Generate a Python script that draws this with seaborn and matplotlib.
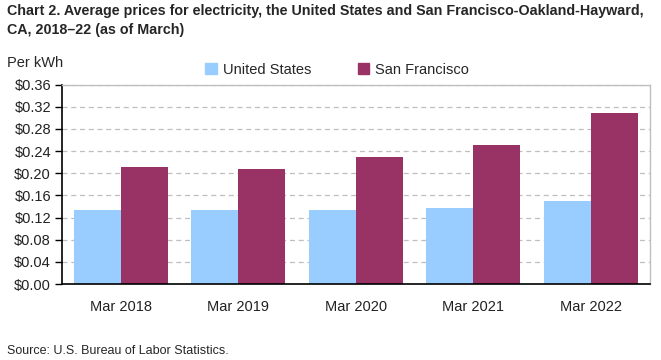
import matplotlib
matplotlib.use("Agg")
import matplotlib.pyplot as plt
import matplotlib.ticker as mticker
import pandas as pd
import seaborn as sns

# значения
periods = ["Mar 2018", "Mar 2019", "Mar 2020", "Mar 2021", "Mar 2022"]
us_prices = [0.133, 0.133, 0.133, 0.137, 0.150]
sf_prices = [0.211, 0.208, 0.230, 0.251, 0.309]
series_names = ["United States", "San Francisco"]
series_colors = ["#99CCFF", "#993366"]

df = pd.DataFrame({
    "period": periods * 2,
    "price": us_prices + sf_prices,
    "series": [series_names[0]] * len(periods) + [series_names[1]] * len(periods),
})

sns.set_style("white")
plt.rcParams["font.family"] = ["Liberation Sans", "DejaVu Sans"]

fig = plt.figure(figsize=(6.61, 3.6), dpi=100)
ax = fig.add_axes([0.094, 0.211, 0.889, 0.554])

sns.barplot(data=df, x="period", y="price", hue="series", palette=series_colors,
            width=0.8, saturation=1, linewidth=0, ax=ax, legend=False)

ax.set_ylim(0, 0.36)
ax.yaxis.set_major_locator(mticker.MultipleLocator(0.04))
ax.yaxis.set_major_formatter(mticker.FuncFormatter(lambda v, p: "${:.2f}".format(v)))
ax.grid(axis="y", color="#BFBFBF", linestyle=(0, (4, 3)), linewidth=0.9)
ax.set_axisbelow(True)
ax.set_xlabel("")
ax.set_ylabel("")

for side in ["left", "bottom"]:
    ax.spines[side].set_color("black")
    ax.spines[side].set_linewidth(1.2)
for side in ["top", "right"]:
    ax.spines[side].set_color("#BFBFBF")
    ax.spines[side].set_linewidth(1.0)

ax.tick_params(axis="y", left=True, length=5, width=1, color="black",
               labelsize=10.5, pad=3)
ax.tick_params(axis="x", bottom=False, labelsize=10.5, pad=8)
for lbl in ax.get_yticklabels() + ax.get_xticklabels():
    lbl.set_color("#222222")

# легенда вручную, без рамки
handles = [plt.Rectangle((0, 0), 1, 1, color=c) for c in series_colors]
fig.legend(handles, series_names, loc="center", bbox_to_anchor=(0.51, 0.806),
           ncol=2, frameon=False, fontsize=10.5, handlelength=0.8, handleheight=0.8,
           handletextpad=0.4, columnspacing=3.2)

fig.text(0.011, 0.99, "Chart 2. Average prices for electricity, the United States and San Francisco-Oakland-Hayward,\nCA, 2018\u201322 (as of March)",
         ha="left", va="top", fontsize=10.3, fontweight="bold", linespacing=1.45)
fig.text(0.011, 0.825, "Per kWh", ha="left", va="center", fontsize=10.5)
fig.text(0.011, 0.025, "Source: U.S. Bureau of Labor Statistics.", ha="left", va="center", fontsize=9)

fig.savefig("out.png", dpi=100)
